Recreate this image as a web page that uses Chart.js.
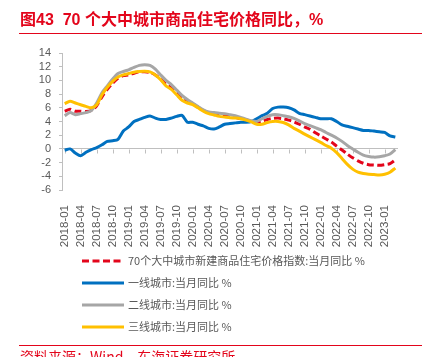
<!DOCTYPE html>
<html>
<head>
<meta charset="utf-8">
<script src="https://cdn.jsdelivr.net/npm/chart.js@4.4.1/dist/chart.umd.min.js"></script>
<style>
  html, body { margin: 0; padding: 0; background: #ffffff; }
  body { width: 427px; height: 357px; position: relative; overflow: hidden; }
  #c { position: absolute; left: 0; top: 0; }
  .title { position: absolute; left: 20px; top: 11px; font: bold 16px "Liberation Sans", "Noto Sans CJK SC", sans-serif; color: #E3051B; white-space: nowrap; line-height: 18px; }
  .rule { position: absolute; left: 19px; width: 403px; height: 1px; background: #E3051B; }
  .source { position: absolute; left: 20px; top: 348px; font: 14px "Noto Sans CJK SC", sans-serif; color: #E3051B; white-space: nowrap; line-height: 16px; }
  #legend { position: absolute; left: 0; top: 0; }
  .li { position: absolute; left: 82px; height: 14px; white-space: nowrap; }
  .li svg { position: absolute; left: 0; top: 4px; }
  .li span { position: absolute; left: 46px; top: -1px; font: 11px "Noto Sans CJK SC", sans-serif; color: #595959; line-height: 14px; }
</style>
</head>
<body>
<canvas id="c" width="427" height="357"></canvas>
<div class="title">图43&nbsp;&nbsp;70 个大中城市商品住宅价格同比，%</div>
<div class="rule" style="top:33px"></div>
<div id="legend"></div>
<div class="rule" style="top:345px"></div>
<div class="source">资料来源：Wind，东海证券研究所</div>
<script>
// Categories: monthly, 2018-01 .. 2023-03
const months = [];
for (let y = 2018; y <= 2023; y++) {
  for (let m = 1; m <= 12; m++) {
    if (y === 2023 && m > 3) break;
    months.push(y + '-' + String(m).padStart(2, '0'));
  }
}

const seriesNames = [
  '70个大中城市新建商品住宅价格指数:当月同比 %',
  '一线城市:当月同比 %',
  '二线城市:当月同比 %',
  '三线城市:当月同比 %'
];

const national = [
  5.5, 5.8, 5.5, 5.5, 5.45, 5.6, 6.3, 7.6, 8.7, 9.6,
  10.3, 10.7, 10.8, 11.05, 11.25, 11.25, 11.15, 10.8, 10.2, 9.4,
  8.9, 8.15, 7.4, 6.95, 6.6, 6.1, 5.6, 5.3, 5.15, 4.95,
  4.85, 4.75, 4.6, 4.4, 4.25, 4.05, 3.95, 4.05, 4.3, 4.45,
  4.5, 4.4, 4.2, 3.95, 3.6, 3.2, 2.85, 2.35, 1.9, 1.45,
  1.0, 0.4, -0.15, -0.75, -1.3, -1.75, -2.1, -2.3, -2.35, -2.4,
  -2.3, -2.15, -1.6
];

const tier1 = [
  -0.2, 0.0, -0.6, -1.0, -0.5, -0.1, 0.2, 0.6, 1.1, 1.2,
  1.4, 2.6, 3.2, 4.0, 4.3, 4.6, 4.8, 4.5, 4.3, 4.3,
  4.5, 4.75, 4.9, 3.9, 3.9, 3.6, 3.35, 3.0, 2.9, 3.2,
  3.6, 3.7, 3.8, 3.9, 3.9, 4.0, 4.4, 4.85, 5.2, 5.9,
  6.1, 6.1, 6.0, 5.7, 5.2, 5.0, 4.8, 4.6, 4.4, 4.4,
  4.4, 4.0, 3.5, 3.3, 3.1, 2.9, 2.7, 2.7, 2.6, 2.5,
  2.4, 1.9, 1.75
];

const tier2 = [
  4.85, 5.3, 5.0, 5.15, 5.3, 5.6, 6.7, 8.2, 9.2, 10.2,
  11.0, 11.3, 11.55, 11.9, 12.2, 12.3, 12.2, 11.65, 10.8, 10.0,
  9.4, 8.6, 7.8, 7.2, 6.7, 6.2, 5.7, 5.4, 5.3, 5.2,
  5.15, 5.0, 4.85, 4.6, 4.35, 4.1, 4.0, 4.4, 4.75, 5.0,
  5.0, 4.85, 4.7, 4.45, 4.1, 3.7, 3.4, 3.1, 2.8, 2.4,
  2.0, 1.6, 1.1, 0.5, 0.0, -0.5, -0.9, -1.1, -1.2, -1.15,
  -1.0, -0.75, -0.1
];

const tier3 = [
  6.6, 6.95, 6.7, 6.45, 6.2, 6.0, 6.45, 7.9, 9.0, 9.85,
  10.5, 10.8, 11.0, 11.2, 11.3, 11.35, 11.25, 10.8, 10.1, 9.2,
  8.7, 7.9, 7.1, 6.7, 6.45, 6.0, 5.5, 5.15, 4.95, 4.75,
  4.65, 4.55, 4.5, 4.4, 4.2, 3.95, 3.6, 3.6, 3.85, 4.0,
  4.0, 3.85, 3.5, 3.0, 2.6, 2.15, 1.75, 1.35, 0.95, 0.5,
  0.1, -0.55, -1.4, -2.25, -2.95, -3.4, -3.6, -3.7, -3.75, -3.8,
  -3.7, -3.4, -2.8
];

const yTicks = { min: -6, max: 14, step: 2 };
const labelEvery = 3;

const colors = ['#E3051B', '#0070C0', '#A6A6A6', '#FFC000'];
const dashes = [[7, 3.5], [], [], []];
const values = [national, tier1, tier2, tier3];
const drawOrder = [4, 3, 2, 1];

const datasets = seriesNames.map((name, k) => ({
  label: name,
  data: values[k],
  borderColor: colors[k],
  backgroundColor: colors[k],
  borderWidth: 3,
  borderDash: dashes[k],
  pointRadius: 0,
  tension: 0.25,
  fill: false,
  order: drawOrder[k]
}));

const axisColor = '#BFBFBF';
const tickFont = { family: '"Liberation Sans", "Noto Sans CJK SC", sans-serif', size: 11 };

const zeroTicks = {
  id: 'zeroTicks',
  beforeDatasetsDraw(chart) {
    const x = chart.scales.x, y = chart.scales.y, ctx = chart.ctx;
    const y0 = Math.round(y.getPixelForValue(0)) + 0.5;
    ctx.save();
    ctx.strokeStyle = axisColor;
    ctx.lineWidth = 1;
    ctx.beginPath();
    for (let i = 0; i < months.length; i += labelEvery) {
      const px = Math.round(x.getPixelForValue(i)) + 0.5;
      ctx.moveTo(px, y0);
      ctx.lineTo(px, y0 + 4);
    }
    ctx.stroke();
    ctx.restore();
  }
};

new Chart(document.getElementById('c'), {
  type: 'line',
  data: { labels: months, datasets },
  options: {
    responsive: false,
    animation: false,
    devicePixelRatio: 1,
    layout: { padding: { left: 0, right: 29, top: 53, bottom: 106 } },
    plugins: { legend: { display: false }, tooltip: { enabled: false }, title: { display: false } },
    scales: {
      x: {
        type: 'category',
        offset: true,
        grid: { display: false },
        border: { display: false },
        ticks: {
          autoSkip: false,
          minRotation: 90,
          maxRotation: 90,
          padding: 7,
          color: '#595959',
          font: { family: '"Liberation Sans", sans-serif', size: 11.5 },
          callback: (v, i) => (i % labelEvery === 0 ? months[i] : '')
        },
        afterFit: s => { s.height = 61; }
      },
      y: {
        min: yTicks.min,
        max: yTicks.max,
        ticks: { stepSize: yTicks.step, autoSkip: false, color: '#595959', font: tickFont, padding: 8 },
        grid: {
          drawOnChartArea: true,
          color: c => (c.tick && c.tick.value === 0 ? axisColor : 'rgba(0,0,0,0)'),
          tickColor: axisColor,
          tickLength: 3,
          lineWidth: 1
        },
        border: { display: true, color: axisColor, width: 1 },
        afterFit: s => { s.width = 62; }
      }
    }
  },
  plugins: [zeroTicks]
});

// Legend (one column), built from the datasets
const legendEl = document.getElementById('legend');
const legendTops = [254, 276, 298, 320];
datasets.forEach((d, k) => {
  const item = document.createElement('div');
  item.className = 'li';
  item.style.top = legendTops[k] + 'px';
  const dash = d.borderDash.length ? ` stroke-dasharray="${d.borderDash.join(' ')}"` : '';
  item.innerHTML = `<svg width="42" height="6"><line x1="0" y1="3" x2="42" y2="3" stroke="${d.borderColor}" stroke-width="3"${dash}/></svg><span></span>`;
  item.querySelector('span').textContent = d.label;
  legendEl.appendChild(item);
});
</script>
</body>
</html>
